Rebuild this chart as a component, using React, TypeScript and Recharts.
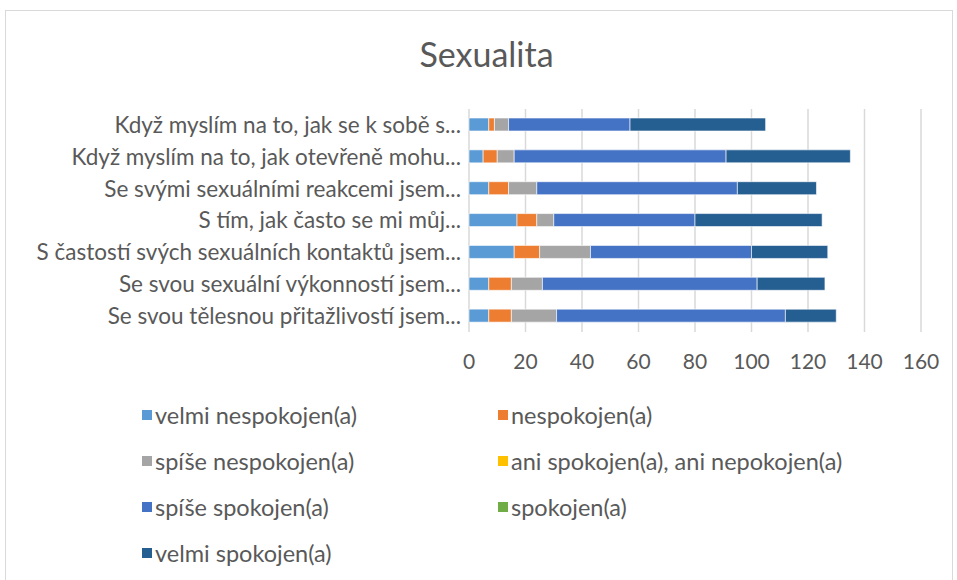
import { Bar, BarChart, CartesianGrid, XAxis, YAxis } from 'recharts';

const CATEGORIES = [
  'Když myslím na to, jak se k sobě s...',
  'Když myslím na to, jak otevřeně mohu...',
  'Se svými sexuálními reakcemi jsem...',
  'S tím, jak často se mi můj...',
  'S častostí svých sexuálních kontaktů jsem...',
  'Se svou sexuální výkonností jsem...',
  'Se svou tělesnou přitažlivostí jsem...',
];

const VELMI_NESPOKOJEN = [7, 5, 7, 17, 16, 7, 7];
const NESPOKOJEN = [2, 5, 7, 7, 9, 8, 8];
const SPISE_NESPOKOJEN = [5, 6, 10, 6, 18, 11, 16];
const ANI_ANI = [0, 0, 0, 0, 0, 0, 0];
const SPISE_SPOKOJEN = [43, 75, 71, 50, 57, 76, 81];
const SPOKOJEN = [0, 0, 0, 0, 0, 0, 0];
const VELMI_SPOKOJEN = [48, 44, 28, 45, 27, 24, 18];

const X_TICKS = [0, 20, 40, 60, 80, 100, 120, 140, 160];

const SERIES = [
  { key: 's1', name: 'velmi nespokojen(a)', values: VELMI_NESPOKOJEN, color: '#5b9bd5' },
  { key: 's2', name: 'nespokojen(a)', values: NESPOKOJEN, color: '#ed7d31' },
  { key: 's3', name: 'spíše nespokojen(a)', values: SPISE_NESPOKOJEN, color: '#a5a5a5' },
  { key: 's4', name: 'ani spokojen(a), ani nepokojen(a)', values: ANI_ANI, color: '#ffc000' },
  { key: 's5', name: 'spíše spokojen(a)', values: SPISE_SPOKOJEN, color: '#4472c4' },
  { key: 's6', name: 'spokojen(a)', values: SPOKOJEN, color: '#70ad47' },
  { key: 's7', name: 'velmi spokojen(a)', values: VELMI_SPOKOJEN, color: '#255e91' },
];

const data = CATEGORIES.map((name, i) => {
  const row: Record<string, string | number> = { name };
  SERIES.forEach((s) => {
    row[s.key] = s.values[i];
  });
  return row;
});

const FONT = 'Lato, "Open Sans", sans-serif';
const TEXT = '#595959';

export default function App() {
  return (
    <div
      style={{
        position: 'absolute',
        left: 0,
        top: 0,
        width: 957,
        height: 580,
        background: '#fff',
        fontFamily: FONT,
        overflow: 'hidden',
      }}
    >
      <div
        style={{
          position: 'absolute',
          left: 5,
          top: 10,
          width: 946,
          height: 600,
          border: '1px solid #d9d9d9',
        }}
      />
      <div
        style={{
          position: 'absolute',
          left: 0,
          width: 957,
          top: 33,
          textAlign: 'center',
          fontSize: 34,
          lineHeight: '42px',
          color: TEXT,
          paddingLeft: 16,
          boxSizing: 'border-box',
        }}
      >
        Sexualita
      </div>
      <div style={{ position: 'absolute', left: 0, top: 0 }}>
        <BarChart
          width={957}
          height={580}
          data={data}
          layout="vertical"
          margin={{ top: 109, right: 36, left: 0, bottom: 218 }}
        >
          <CartesianGrid horizontal={false} stroke="#d9d9d9" strokeWidth={1.5} />
          <XAxis
            type="number"
            domain={[0, 160]}
            ticks={X_TICKS}
            axisLine={false}
            tickLine={false}
            tickSize={0}
            tickMargin={22}
            height={30}
            tick={{ fill: TEXT, fontSize: 21, fontFamily: FONT }}
          />
          <YAxis
            type="category"
            dataKey="name"
            width={469}
            axisLine={false}
            tickLine={false}
            tickSize={0}
            tickMargin={8}
            tick={{ fill: TEXT, fontSize: 22.5, fontFamily: FONT }}
          />
          {SERIES.map((s) => (
            <Bar
              key={s.key}
              dataKey={s.key}
              name={s.name}
              stackId="a"
              fill={s.color}
              barSize={13}
              stroke="#ffffff"
              strokeWidth={0.6}
              isAnimationActive={false}
            />
          ))}
        </BarChart>
      </div>
      <div
        style={{
          position: 'absolute',
          left: 142,
          top: 401,
          display: 'grid',
          gridTemplateColumns: '356px 356px',
          rowGap: 18,
          fontSize: 23.5,
          color: TEXT,
        }}
      >
        {SERIES.map((s) => (
          <div key={s.key} style={{ display: 'flex', alignItems: 'center', height: 28 }}>
            <span
              style={{
                display: 'inline-block',
                width: 10,
                height: 10,
                background: s.color,
                marginRight: 3,
              }}
            />
            <span>{s.name}</span>
          </div>
        ))}
      </div>
    </div>
  );
}
